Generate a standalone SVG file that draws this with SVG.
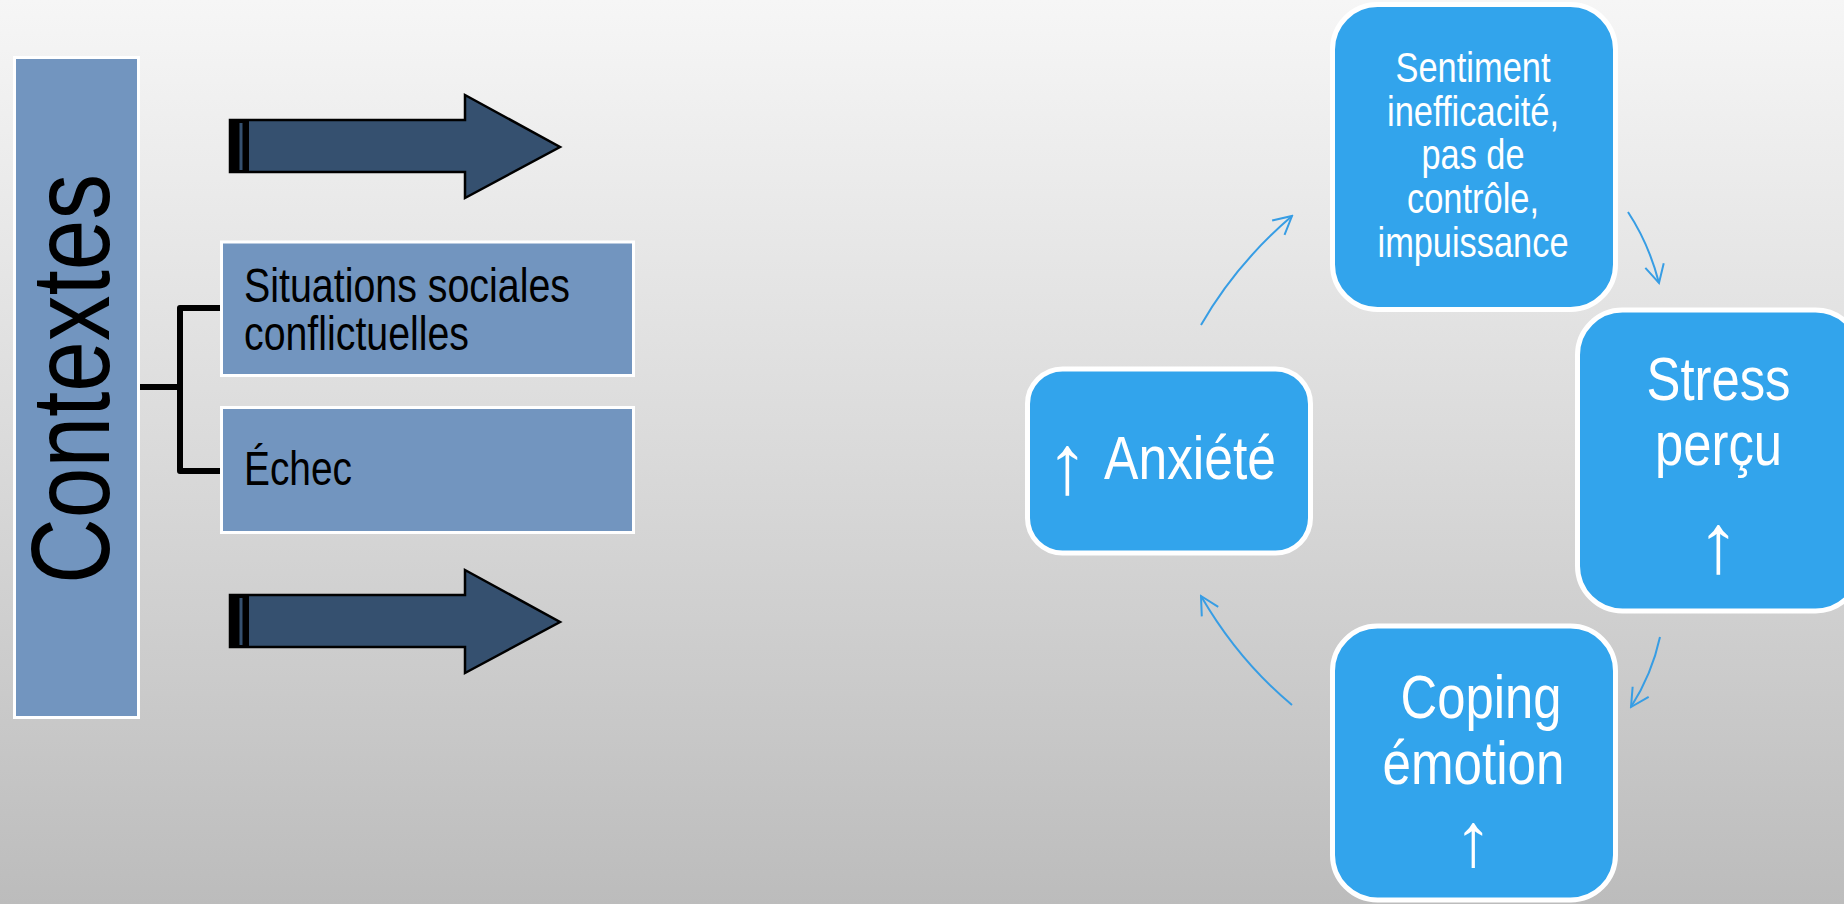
<svg xmlns="http://www.w3.org/2000/svg" width="1844" height="904" viewBox="0 0 1844 904">
<defs>
<linearGradient id="bg" x1="0" y1="0" x2="0" y2="1">
<stop offset="0" stop-color="#f6f6f6"/>
<stop offset="0.5" stop-color="#dadada"/>
<stop offset="1" stop-color="#bcbcbc"/>
</linearGradient>
<marker id="ah" markerUnits="userSpaceOnUse" viewBox="-22 -12 24 24" refX="0" refY="0" markerWidth="24" markerHeight="24" orient="auto">
<path d="M-18,-9.5 L0,0 L-18,9.5" fill="none" stroke="#379de4" stroke-width="2"/>
</marker>
<style>
.narrow{font-family:"Liberation Sans Narrow","Arial Narrow","Liberation Sans",Arial,sans-serif;}
.arr{font-family:"Liberation Sans",Arial,sans-serif;font-size:84px;}
.lbox{fill:#7295bf;stroke:#ffffff;stroke-width:3;}
.bbox{fill:#32a4ec;stroke:#ffffff;stroke-width:5;}
.blk{fill:#000000;}
.wht{fill:#ffffff;}
.blockarrow{fill:#35506f;stroke:#000000;stroke-width:2.5;stroke-linejoin:miter;}
.conn{fill:none;stroke:#379de4;stroke-width:2;marker-end:url(#ah);}
.bracket{fill:none;stroke:#000000;stroke-width:6;stroke-linejoin:round;}
</style>
</defs>
<rect x="0" y="0" width="1844" height="904" fill="url(#bg)"/>

<g id="contextes">
<rect class="lbox" x="14.5" y="57.5" width="124" height="660"/>
<text class="narrow blk" font-size="111" transform="translate(109,584) rotate(-90)" textLength="410" lengthAdjust="spacingAndGlyphs">Contextes</text>
</g>

<g id="bracket">
<path class="bracket" d="M140,387 H180 M220,308 H180 V471 H220"/>
</g>

<g id="situations">
<rect class="lbox" x="221.5" y="242" width="412" height="133.5"/>
<text class="narrow blk" font-size="48" x="244" y="302" textLength="326" lengthAdjust="spacingAndGlyphs">Situations sociales</text>
<text class="narrow blk" font-size="48" x="244" y="350" textLength="225" lengthAdjust="spacingAndGlyphs">conflictuelles</text>
</g>

<g id="echec">
<rect class="lbox" x="221.5" y="407.5" width="412" height="125"/>
<text class="narrow blk" font-size="48" x="244" y="485" textLength="108" lengthAdjust="spacingAndGlyphs">Échec</text>
</g>

<g id="arrow-top">
<path class="blockarrow" d="M230,120 H465 V95 L560,147 L465,198 V172 H230 Z"/>
<rect x="229" y="119" width="20" height="54" fill="#000000"/>
<rect x="239.5" y="123" width="3" height="47" fill="#35506f"/>
</g>

<g id="arrow-bottom">
<path class="blockarrow" d="M230,595 H465 V570 L560,622 L465,673 V647 H230 Z"/>
<rect x="229" y="594" width="20" height="54" fill="#000000"/>
<rect x="239.5" y="598" width="3" height="47" fill="#35506f"/>
</g>

<g id="sentiment">
<rect class="bbox" x="1332.5" y="4.5" width="283" height="305" rx="45" ry="45"/>
<g class="narrow wht" font-size="42" text-anchor="middle">
<text x="1473" y="82" textLength="155" lengthAdjust="spacingAndGlyphs">Sentiment</text>
<text x="1473" y="125.5" textLength="172" lengthAdjust="spacingAndGlyphs">inefficacité,</text>
<text x="1473" y="169" textLength="103" lengthAdjust="spacingAndGlyphs">pas de</text>
<text x="1473" y="213" textLength="132" lengthAdjust="spacingAndGlyphs">contrôle,</text>
<text x="1473" y="257" textLength="191" lengthAdjust="spacingAndGlyphs">impuissance</text>
</g>
</g>

<g id="stress">
<rect class="bbox" x="1577.5" y="310" width="283" height="301" rx="45" ry="45"/>
<g class="narrow wht" font-size="62" text-anchor="middle">
<text x="1718.5" y="400" textLength="144" lengthAdjust="spacingAndGlyphs">Stress</text>
<text x="1718.5" y="465" textLength="127" lengthAdjust="spacingAndGlyphs">perçu</text>
<text class="arr" x="1718.5" y="572">↑</text>
</g>
</g>

<g id="anxiete">
<rect class="bbox" x="1027.5" y="369" width="283" height="184" rx="35" ry="35"/>
<text class="narrow wht" font-size="62"><tspan class="arr" x="1076" y="493" text-anchor="middle">↑</tspan> <tspan x="1104" y="479" textLength="172" lengthAdjust="spacingAndGlyphs">Anxiété</tspan></text>
</g>

<g id="coping">
<rect class="bbox" x="1332.5" y="626" width="283" height="274" rx="45" ry="45"/>
<g class="narrow wht" font-size="62" text-anchor="middle">
<text x="1481" y="718" textLength="161" lengthAdjust="spacingAndGlyphs">Coping</text>
<text x="1473.5" y="784" textLength="182" lengthAdjust="spacingAndGlyphs">émotion</text>
<text class="arr" x="1473.5" y="866" style="font-size:76px">↑</text>
</g>
</g>

<g id="connectors">
<path class="conn" d="M1201,325 Q1236,264 1292,216"/>
<path class="conn" d="M1628,212 Q1649,244 1659,283"/>
<path class="conn" d="M1660,637 Q1652,674 1631,707"/>
<path class="conn" d="M1292,705 Q1238,660 1201,596"/>
</g>
</svg>
